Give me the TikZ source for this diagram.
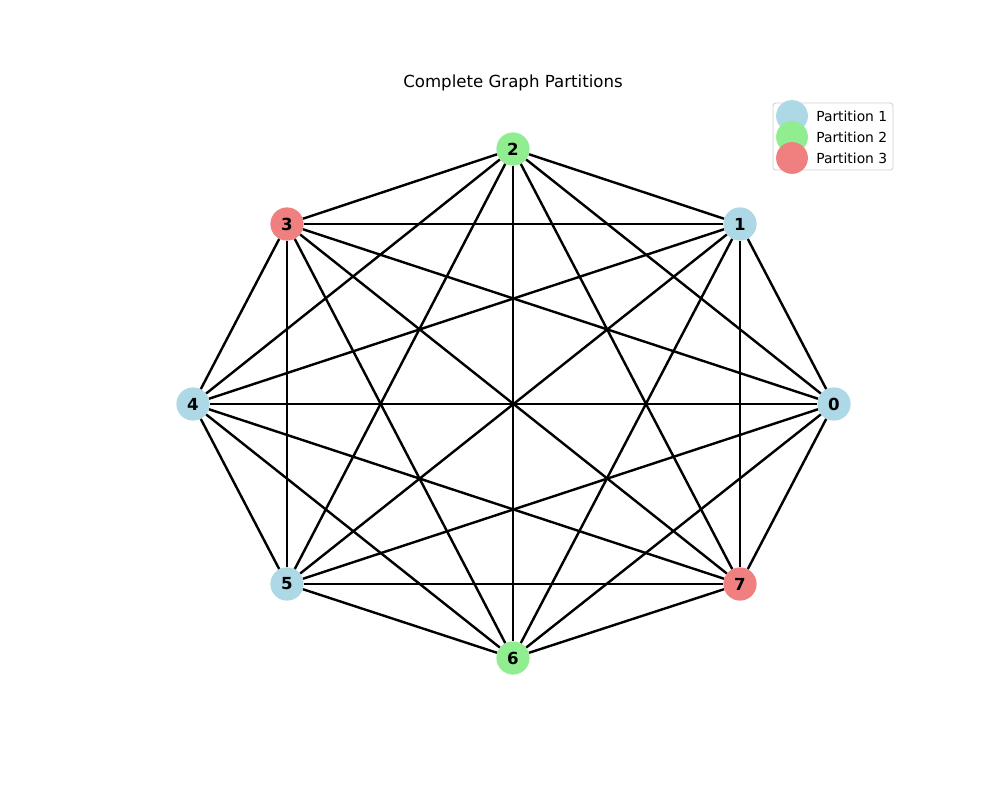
\documentclass[tikz,border=0pt]{standalone}
\usepackage{fontspec}
\setmainfont{DejaVu Sans}
\usepackage{tikz}
\usetikzlibrary{positioning}

\definecolor{partone}{RGB}{173,216,230}
\definecolor{parttwo}{RGB}{144,238,144}
\definecolor{partthree}{RGB}{240,128,128}

\tikzset{
    vertex/.style={circle, draw=none, minimum size=24pt, inner sep=0pt,
        font=\bfseries\fontsize{12}{14}\selectfont},
    edge/.style={black, line width=1.75pt},
    legendtext/.style={anchor=west, inner sep=0pt, font=\fontsize{10}{12}\selectfont}
}

\begin{document}
\begin{tikzpicture}[x=0.01in, y=-0.01in]
    \useasboundingbox (0,0) rectangle (1000,800);

    % title
    \node[font=\fontsize{12}{14}\selectfont] (title) at (513,83) {Complete Graph Partitions};

    % vertices
    \foreach \name/\px/\py/\co in {
        0/834/404/partone,
        1/740/224/partone,
        2/513/149/parttwo,
        3/287/224/partthree,
        4/193/404/partone,
        5/287/584/partone,
        6/513/658/parttwo,
        7/740/584/partthree}
    {
        \node[vertex, fill=\co] (n\name) at (\px,\py) {\name};
    }

    % edges
    \foreach \i in {0,...,6}
    {
        \pgfmathtruncatemacro\next{\i+1}
        \foreach \j in {\next,...,7}
        {
            \draw[edge] (n\i) -- (n\j);
        }
    }

    % legend
    \draw[draw=black!18, fill=white, rounded corners=2pt, line width=0.6pt]
        (773,103) rectangle (893,170);
    \foreach \co/\py/\i in {
        partone/116/1,
        parttwo/137/2,
        partthree/158/3}
    {
        \fill[\co] (792,\py) circle (11.5pt);
        \node[legendtext] (leg\i) at (816,\py) {Partition \i};
    }
\end{tikzpicture}
\end{document}
